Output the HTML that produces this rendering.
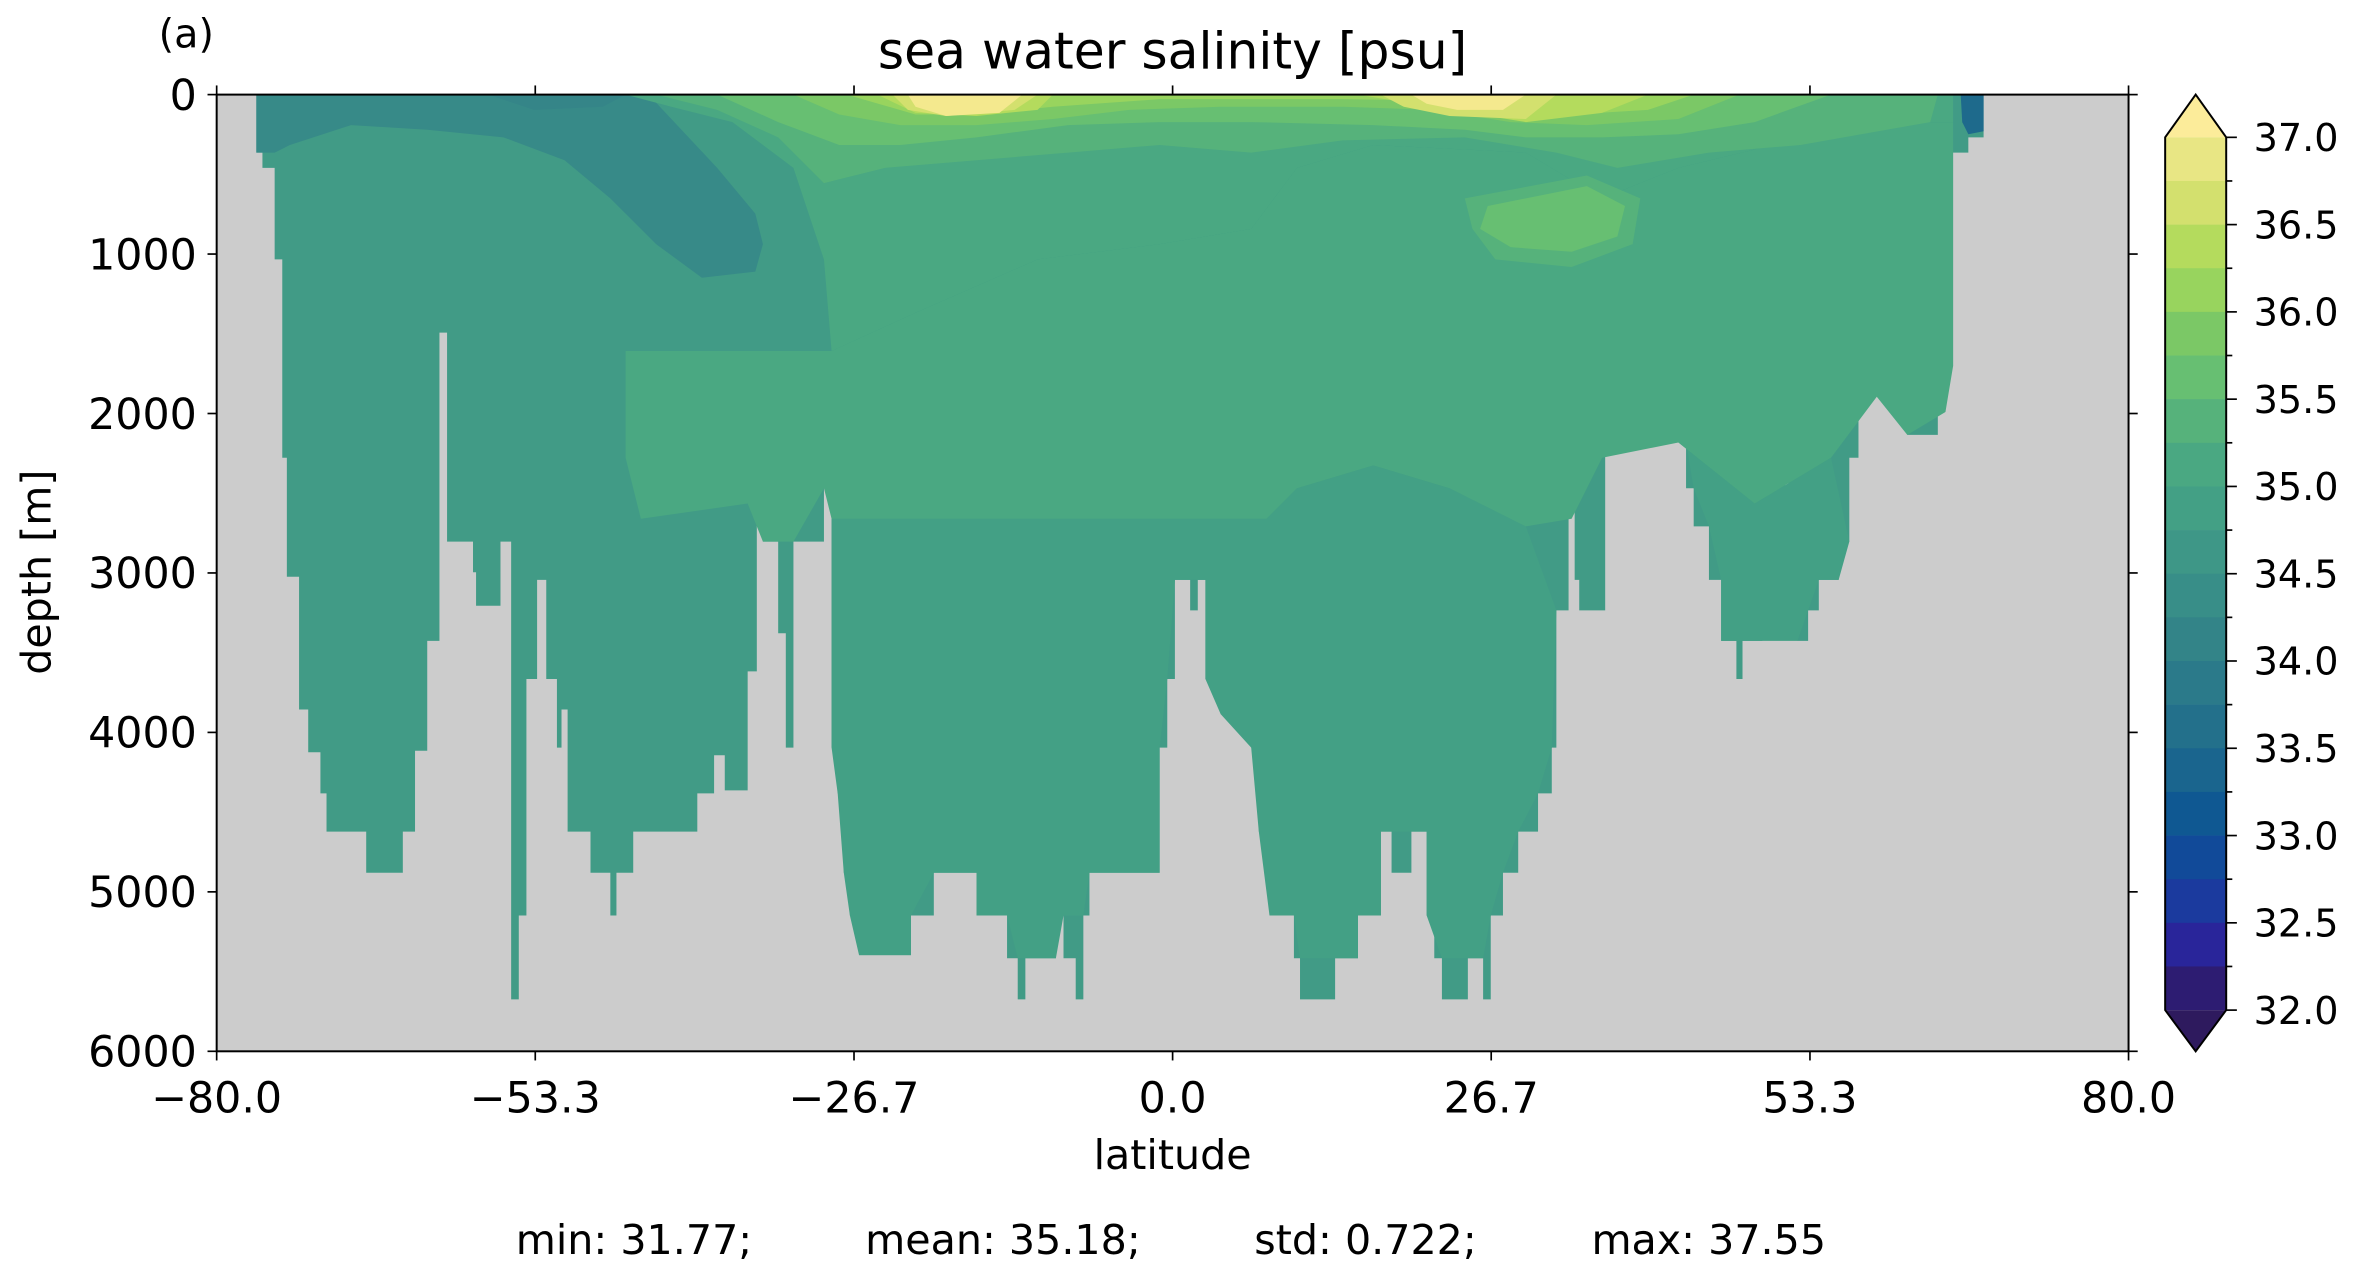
<!DOCTYPE html>
<html><head><meta charset="utf-8"><style>html,body{margin:0;padding:0;background:#fff}svg{display:block}</style></head>
<body>
<svg width="2362" height="1263" viewBox="0 0 2362 1263" xmlns="http://www.w3.org/2000/svg">
<g transform="scale(1.52584)" font-family="DejaVu Sans, Liberation Sans, sans-serif" fill="#000">
<rect x="142" y="62" width="1253" height="627" fill="#cccccc"/>
<polygon fill="#419b86" points="168,62 168,100 172,100 172,110 180,110 180,170 185,170 185,300 188,300 188,378 196,378 196,465 202,465 202,493 210,493 210,520 214,520 214,545 240,545 240,572 264,572 264,545 272,545 272,492 280,492 280,420 288,420 288,218 293,218 293,355 310,355 310,375 312,375 312,397 328,397 328,355 335,355 335,655 340,655 340,600 345,600 345,445 352,445 352,380 358,380 358,445 365,445 365,490 368,490 368,465 372,465 372,545 387,545 387,572 400,572 400,600 404,600 404,572 415,572 415,545 457,545 457,520 468,520 468,495 475,495 475,518 490,518 490,440 496,440 496,300 500,300 500,355 510,355 510,415 515,415 515,490 520,490 520,355 540,355 540,320 545,320 545,490 549,490 549,520 553,520 553,572 557,572 557,600 563,600 563,626 597,626 597,600 612,600 612,572 640,572 640,600 660,600 660,628 667,628 667,655 672,655 672,628 692,628 692,600 697,600 697,628 705,628 705,655 710,655 710,600 714,600 714,572 760,572 760,490 765,490 765,445 770,445 770,380 780,380 780,400 785,400 785,380 790,380 790,445 800,445 800,468 820,468 820,490 825,490 825,545 832,545 832,600 848,600 848,628 852,628 852,655 875,655 875,628 890,628 890,600 905,600 905,545 912,545 912,572 925,572 925,545 935,545 935,600 940,600 940,628 945,628 945,655 962,655 962,628 972,628 972,655 977,655 977,600 985,600 985,572 995,572 995,545 1008,545 1008,520 1017,520 1017,490 1020,490 1020,400 1028,400 1028,140 1032,140 1032,380 1035,380 1035,400 1052,400 1052,190 1058,190 1058,210 1063,210 1063,240 1067,240 1067,210 1072,210 1072,240 1077,240 1077,220 1082,220 1082,260 1088,260 1088,290 1105,290 1105,320 1110,320 1110,345 1120,345 1120,380 1128,380 1128,420 1138,420 1138,445 1142,445 1142,420 1155,420 1155,340 1160,340 1160,380 1165,380 1165,355 1170,355 1170,300 1172,300 1172,380 1178,380 1178,420 1185,420 1185,400 1192,400 1192,380 1205,380 1205,355 1212,355 1212,300 1218,300 1218,260 1222,260 1222,210 1228,210 1228,190 1232,190 1232,160 1238,160 1238,220 1245,220 1245,255 1250,255 1250,285 1270,285 1270,270 1275,270 1275,240 1280,240 1280,100 1290,100 1290,90 1300,90 1300,62"/>
<polygon fill="#43a085" points="545,340 830,340 850,320 900,305 950,320 1000,345 1020,400 1017,490 1008,520 995,545 985,572 977,600 972,628 945,628 935,600 935,545 905,545 905,600 890,600 890,628 852,628 848,600 832,600 825,545 820,490 800,468 790,445 790,380 770,380 765,445 760,490 760,572 714,572 710,600 697,600 692,628 667,628 660,600 640,600 640,572 612,572 597,600 597,626 563,626 557,600 553,572 549,520 545,490"/>
<polygon fill="#43a085" points="1100,290 1150,330 1200,300 1212,355 1205,380 1192,380 1185,400 1178,420 1155,420 1142,420 1128,420 1128,380 1120,345 1110,320 1105,290"/>
<polygon fill="#378a88" points="168,62 425,62 440,78 470,110 495,140 500,160 495,178 460,182 430,160 400,130 370,105 330,90 280,85 230,82 190,95 180,100 168,100"/>
<polygon fill="#358588" points="320,62 410,62 395,70 350,72"/>
<polygon fill="#378a88" points="640,95 760,90 800,105 805,140 780,150 700,150 650,130"/>
<polygon fill="#378a88" points="1110,120 1150,100 1170,105 1160,135 1130,170 1110,175"/>
<polygon fill="#4aa882" points="410,230 545,230 600,205 680,170 760,160 820,150 850,110 900,95 1000,100 1050,130 1100,110 1150,98 1190,80 1280,80 1280,240 1275,270 1250,285 1230,260 1200,300 1150,330 1100,290 1050,300 1030,340 1000,345 950,320 900,305 850,320 830,340 545,340 540,320 520,355 500,355 490,330 420,340 410,300"/>
<polygon fill="#4aa882" points="410,62 1280,62 1280,80 1190,80 1150,98 1100,110 1050,130 1000,100 900,95 850,110 820,150 760,160 680,170 600,205 545,230 540,170 520,110 480,80 440,70"/>
<polygon fill="#56b27b" points="430,62 1270,62 1265,80 1180,95 1120,100 1060,110 1020,100 960,90 880,92 820,100 760,95 700,100 640,105 580,110 540,120 510,90 470,72"/>
<polygon fill="#56b27b" points="960,130 1040,115 1075,130 1070,160 1030,175 980,170 965,150"/>
<polygon fill="#67bf72" points="470,62 1200,62 1150,80 1100,88 1050,90 1000,90 960,85 900,82 820,80 760,80 700,82 640,90 590,95 550,95 510,80"/>
<polygon fill="#67bf72" points="975,135 1040,122 1065,135 1060,155 1030,165 990,162 970,150"/>
<polygon fill="#7bc866" points="520,62 1140,62 1100,78 1040,82 990,80 940,72 880,70 800,70 740,72 690,78 640,82 590,82 550,75"/>
<polygon fill="#98d45e" points="555,62 1110,62 1080,72 1030,75 990,72 950,66 880,65 760,65 690,70 640,75 600,75"/>
<polygon fill="#b4db5d" points="575,62 690,62 680,72 640,76 600,74"/>
<polygon fill="#b4db5d" points="890,62 1080,62 1050,74 1000,80 950,72"/>
<polygon fill="#d3e06e" points="585,62 680,62 665,72 620,76 595,72"/>
<polygon fill="#d3e06e" points="905,62 1020,62 1000,78 950,76 920,70"/>
<polygon fill="#f4e98e" points="595,62 670,62 655,74 620,76 600,70"/>
<polygon fill="#f4e98e" points="925,62 1000,62 985,72 955,72 935,68"/>
<polygon fill="#1e6a8c" points="1285,62 1300,62 1300,86 1290,88 1286,80"/>
<rect x="142" y="62" width="1253" height="627" fill="none" stroke="#000" stroke-width="1.3"/>
<g stroke="#000" stroke-width="1.1">
<line x1="142" y1="689" x2="142" y2="695"/><line x1="350.8" y1="689" x2="350.8" y2="695"/><line x1="559.7" y1="689" x2="559.7" y2="695"/><line x1="768.5" y1="689" x2="768.5" y2="695"/><line x1="977.3" y1="689" x2="977.3" y2="695"/><line x1="1186.2" y1="689" x2="1186.2" y2="695"/><line x1="1395" y1="689" x2="1395" y2="695"/>
<line x1="142" y1="62" x2="142" y2="56"/><line x1="350.8" y1="62" x2="350.8" y2="56"/><line x1="559.7" y1="62" x2="559.7" y2="56"/><line x1="768.5" y1="62" x2="768.5" y2="56"/><line x1="977.3" y1="62" x2="977.3" y2="56"/><line x1="1186.2" y1="62" x2="1186.2" y2="56"/><line x1="1395" y1="62" x2="1395" y2="56"/>
<line x1="136" y1="62" x2="142" y2="62"/><line x1="136" y1="166.5" x2="142" y2="166.5"/><line x1="136" y1="271" x2="142" y2="271"/><line x1="136" y1="375.5" x2="142" y2="375.5"/><line x1="136" y1="480" x2="142" y2="480"/><line x1="136" y1="584.5" x2="142" y2="584.5"/><line x1="136" y1="689" x2="142" y2="689"/>
<line x1="1395" y1="62" x2="1401" y2="62"/><line x1="1395" y1="166.5" x2="1401" y2="166.5"/><line x1="1395" y1="271" x2="1401" y2="271"/><line x1="1395" y1="375.5" x2="1401" y2="375.5"/><line x1="1395" y1="480" x2="1401" y2="480"/><line x1="1395" y1="584.5" x2="1401" y2="584.5"/><line x1="1395" y1="689" x2="1401" y2="689"/>
</g>
<g font-size="28" text-anchor="end">
<text x="129" y="72">0</text><text x="129" y="176.5">1000</text><text x="129" y="281">2000</text><text x="129" y="385.5">3000</text><text x="129" y="490">4000</text><text x="129" y="594.5">5000</text><text x="129" y="699">6000</text>
</g>
<g font-size="28" text-anchor="middle">
<text x="142" y="729">−80.0</text><text x="350.8" y="729">−53.3</text><text x="559.7" y="729">−26.7</text><text x="768.5" y="729">0.0</text><text x="977.3" y="729">26.7</text><text x="1186.2" y="729">53.3</text><text x="1395" y="729">80.0</text>
<text x="768.5" y="766" font-size="27">latitude</text>
<text x="768.5" y="45" font-size="33">sea water salinity [psu]</text>
<text transform="translate(33,375) rotate(-90)" font-size="27">depth [m]</text>
</g>
<text x="104" y="31" font-size="26">(a)</text>
<g font-size="27">
<text x="338" y="822">min: 31.77;</text><text x="567" y="822">mean: 35.18;</text><text x="822" y="822">std: 0.722;</text><text x="1043" y="822">max: 37.55</text>
</g>
<g>
<polygon points="1419,90 1439,62 1459,90" fill="#fcec9a"/>
<polygon points="1419,662 1439,689 1459,662" fill="#2e1a5e"/>
<rect x="1419" y="90.0" width="40" height="28.8" fill="#e8e684"/>
<rect x="1419" y="118.6" width="40" height="28.8" fill="#d3e06e"/>
<rect x="1419" y="147.2" width="40" height="28.8" fill="#b4db5d"/>
<rect x="1419" y="175.8" width="40" height="28.8" fill="#98d45e"/>
<rect x="1419" y="204.4" width="40" height="28.8" fill="#7bc866"/>
<rect x="1419" y="233.0" width="40" height="28.8" fill="#67bf72"/>
<rect x="1419" y="261.6" width="40" height="28.8" fill="#56b27b"/>
<rect x="1419" y="290.2" width="40" height="28.8" fill="#4aa882"/>
<rect x="1419" y="318.8" width="40" height="28.8" fill="#43a085"/>
<rect x="1419" y="347.4" width="40" height="28.8" fill="#3e9787"/>
<rect x="1419" y="376.0" width="40" height="28.8" fill="#388e88"/>
<rect x="1419" y="404.6" width="40" height="28.8" fill="#338488"/>
<rect x="1419" y="433.2" width="40" height="28.8" fill="#2b7a8a"/>
<rect x="1419" y="461.8" width="40" height="28.8" fill="#23708b"/>
<rect x="1419" y="490.4" width="40" height="28.8" fill="#1a658e"/>
<rect x="1419" y="519.0" width="40" height="28.8" fill="#0f5892"/>
<rect x="1419" y="547.6" width="40" height="28.8" fill="#114a99"/>
<rect x="1419" y="576.2" width="40" height="28.8" fill="#1b3a9e"/>
<rect x="1419" y="604.8" width="40" height="28.8" fill="#29259a"/>
<rect x="1419" y="633.4" width="40" height="28.6" fill="#2d1c72"/>
<polygon points="1419,90 1439,62 1459,90 1459,662 1439,689 1419,662" fill="none" stroke="#000" stroke-width="1.3"/>
<g stroke="#000" stroke-width="1.1">
<line x1="1459" y1="90" x2="1466" y2="90"/><line x1="1459" y1="147.2" x2="1466" y2="147.2"/><line x1="1459" y1="204.4" x2="1466" y2="204.4"/><line x1="1459" y1="261.6" x2="1466" y2="261.6"/><line x1="1459" y1="318.8" x2="1466" y2="318.8"/><line x1="1459" y1="376" x2="1466" y2="376"/><line x1="1459" y1="433.2" x2="1466" y2="433.2"/><line x1="1459" y1="490.4" x2="1466" y2="490.4"/><line x1="1459" y1="547.6" x2="1466" y2="547.6"/><line x1="1459" y1="604.8" x2="1466" y2="604.8"/><line x1="1459" y1="662" x2="1466" y2="662"/>
<line x1="1459" y1="118.6" x2="1463" y2="118.6"/><line x1="1459" y1="175.8" x2="1463" y2="175.8"/><line x1="1459" y1="233" x2="1463" y2="233"/><line x1="1459" y1="290.2" x2="1463" y2="290.2"/><line x1="1459" y1="347.4" x2="1463" y2="347.4"/><line x1="1459" y1="404.6" x2="1463" y2="404.6"/><line x1="1459" y1="461.8" x2="1463" y2="461.8"/><line x1="1459" y1="519" x2="1463" y2="519"/><line x1="1459" y1="576.2" x2="1463" y2="576.2"/><line x1="1459" y1="633.4" x2="1463" y2="633.4"/>
</g>
<g font-size="25">
<text x="1477" y="99">37.0</text><text x="1477" y="156.2">36.5</text><text x="1477" y="213.4">36.0</text><text x="1477" y="270.6">35.5</text><text x="1477" y="327.8">35.0</text><text x="1477" y="385">34.5</text><text x="1477" y="442.2">34.0</text><text x="1477" y="499.4">33.5</text><text x="1477" y="556.6">33.0</text><text x="1477" y="613.8">32.5</text><text x="1477" y="671">32.0</text>
</g>
</g>
</g>
</svg>
</body></html>
